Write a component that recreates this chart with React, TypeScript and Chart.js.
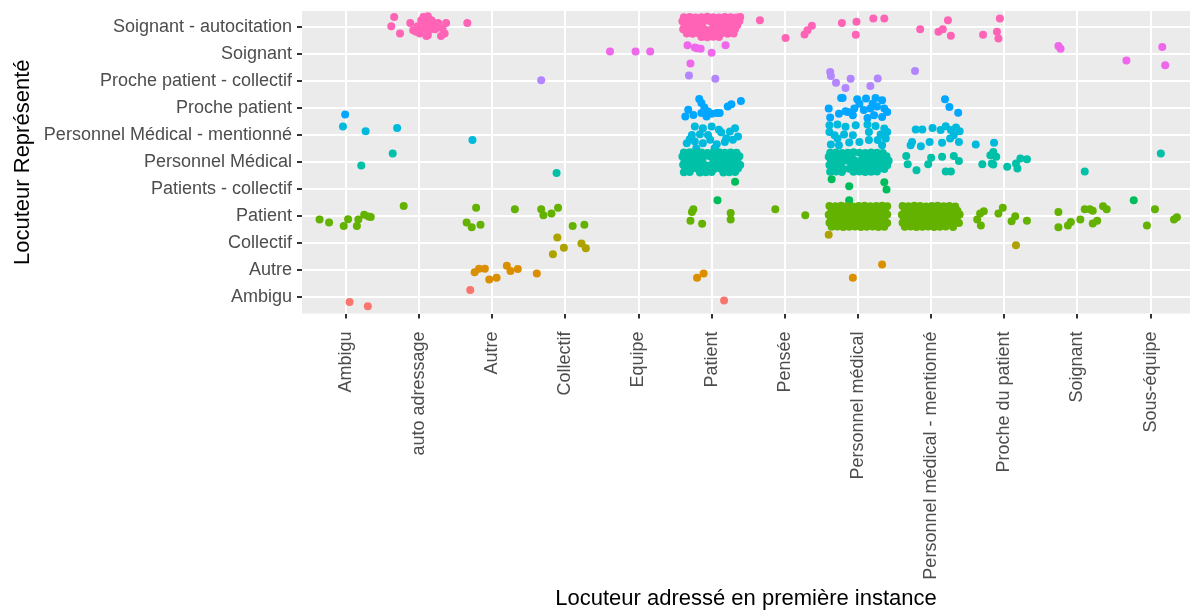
import React, { useEffect, useRef } from "react";
import { Chart, registerables } from "chart.js";

Chart.register(...registerables);

// X categories (Locuteur adressé en première instance), positions 1..12
const xCategories = [
  "Ambigu",
  "auto adressage",
  "Autre",
  "Collectif",
  "Equipe",
  "Patient",
  "Pensée",
  "Personnel médical",
  "Personnel médical - mentionné",
  "Proche du patient",
  "Soignant",
  "Sous-équipe",
];

// Y categories (Locuteur Représenté), positions 1..11 from bottom
const yCategories = [
  "Ambigu",
  "Autre",
  "Collectif",
  "Patient",
  "Patients - collectif",
  "Personnel Médical",
  "Personnel Médical - mentionné",
  "Proche patient",
  "Proche patient - collectif",
  "Soignant",
  "Soignant - autocitation",
];

const seriesColors = [
  "#F8766D",
  "#DB8E00",
  "#AEA200",
  "#64B200",
  "#00BD5C",
  "#00C1A7",
  "#00BADE",
  "#00A6FF",
  "#B385FF",
  "#EF67EB",
  "#FF63B6",
];

const ambiguPts: number[][] = [[1.05, 0.83], [1.3, 0.67], [2.7, 1.27], [6.17, 0.88]];

const autrePts: number[][] = [
  [2.76, 1.93], [2.82, 2.06], [2.9, 2.06], [2.96, 1.66], [3.06, 1.72], [3.2, 2.17], [3.25, 1.97],
  [3.35, 2.05], [3.61, 1.88], [5.8, 1.72], [5.89, 1.88], [8.33, 2.21], [7.93, 1.72],
];

const collectifPts: number[][] = [
  [3.89, 3.21], [3.98, 2.83], [3.83, 2.59], [4.22, 2.99], [4.28, 2.82], [7.6, 3.32], [10.16, 2.93],
];

const patientPts: number[][] = [
  [0.64, 3.88], [0.77, 3.77], [0.97, 3.64], [1.03, 3.89], [1.15, 3.64], [1.17, 3.88], [1.25, 4.06],
  [1.34, 3.97], [1.31, 3.99], [1.79, 4.38],
  [2.65, 3.77], [2.72, 3.59], [2.78, 4.32], [2.84, 3.69], [3.31, 4.26],
  [3.67, 4.26], [3.7, 4.04], [3.81, 4.1], [3.9, 4.32], [4.1, 3.64], [4.26, 3.69],
  [5.75, 4.26], [5.73, 4.16], [5.71, 3.83], [5.87, 3.72], [6.26, 4.12], [6.26, 3.88], [6.87, 4.26],
  [7.28, 4.04],
  // Personnel médical block
  [7.61, 4.38], [7.69, 4.37], [7.77, 4.39], [7.85, 4.38], [7.93, 4.36], [8.01, 4.38], [8.09, 4.39], [8.17, 4.37], [8.25, 4.38], [8.33, 4.39], [8.4, 4.37],
  [7.64, 4.22], [7.72, 4.23], [7.8, 4.21], [7.88, 4.22], [7.97, 4.24], [8.05, 4.22], [8.13, 4.21], [8.21, 4.23], [8.29, 4.22], [8.37, 4.21],
  [7.6, 4.06], [7.68, 4.07], [7.76, 4.05], [7.84, 4.06], [7.92, 4.08], [8.0, 4.06], [8.08, 4.05], [8.16, 4.07], [8.24, 4.06], [8.32, 4.05], [8.4, 4.07],
  [7.63, 3.91], [7.71, 3.9], [7.79, 3.92], [7.87, 3.91], [7.95, 3.89], [8.03, 3.91], [8.12, 3.92], [8.2, 3.9], [8.28, 3.91], [8.36, 3.92],
  [7.61, 3.76], [7.69, 3.75], [7.77, 3.77], [7.85, 3.76], [7.93, 3.74], [8.01, 3.76], [8.09, 3.77], [8.17, 3.75], [8.25, 3.76], [8.33, 3.77], [8.4, 3.75],
  [7.64, 3.61], [7.72, 3.62], [7.8, 3.6], [7.88, 3.61], [7.96, 3.62], [8.04, 3.6], [8.12, 3.61], [8.2, 3.62], [8.28, 3.6], [8.36, 3.61],
  // Personnel médical - mentionné block
  [8.61, 4.38], [8.69, 4.37], [8.77, 4.39], [8.85, 4.38], [8.93, 4.36], [9.01, 4.38], [9.09, 4.39], [9.17, 4.37], [9.25, 4.38], [9.33, 4.36],
  [8.64, 4.22], [8.72, 4.23], [8.8, 4.21], [8.88, 4.22], [8.96, 4.24], [9.04, 4.22], [9.12, 4.21], [9.2, 4.23], [9.28, 4.22], [9.36, 4.2],
  [8.6, 4.06], [8.68, 4.07], [8.76, 4.05], [8.84, 4.06], [8.92, 4.08], [9.0, 4.06], [9.08, 4.05], [9.16, 4.07], [9.24, 4.06], [9.32, 4.05], [9.39, 4.07],
  [8.63, 3.91], [8.71, 3.9], [8.79, 3.92], [8.87, 3.91], [8.95, 3.89], [9.03, 3.91], [9.11, 3.92], [9.19, 3.9], [9.27, 3.91], [9.35, 3.92],
  [8.61, 3.76], [8.69, 3.75], [8.77, 3.77], [8.85, 3.76], [8.93, 3.74], [9.01, 3.76], [9.09, 3.77], [9.17, 3.75], [9.25, 3.76], [9.33, 3.77], [9.38, 3.75],
  [8.64, 3.61], [8.72, 3.62], [8.8, 3.6], [8.88, 3.61], [8.96, 3.62], [9.04, 3.6], [9.12, 3.61], [9.2, 3.62], [9.3, 3.6],
  // right side
  [9.63, 3.88], [9.67, 4.1], [9.68, 3.66], [9.72, 4.19], [9.92, 4.1], [9.98, 4.32], [10.1, 3.82], [10.15, 4.0],
  [10.31, 3.83], [10.74, 4.16], [10.74, 3.59], [10.87, 3.66], [10.91, 3.79], [11.04, 3.88], [11.1, 4.26],
  [11.17, 4.26], [11.21, 4.2], [11.21, 3.73], [11.27, 3.83], [11.35, 4.37], [11.4, 4.26], [11.95, 3.66],
  [12.06, 4.26], [12.32, 3.88], [12.36, 3.96],
];

const patientsCollectifPts: number[][] = [
  [6.32, 5.28], [6.08, 4.59], [7.64, 5.37], [7.88, 5.11], [7.88, 4.59], [8.36, 5.26], [8.39, 4.99], [11.77, 4.59],
];

const personnelMedicalPts: number[][] = [
  [1.21, 5.88], [1.64, 6.32], [3.88, 5.6],
  // Patient block
  [5.62, 6.36], [5.7, 6.37], [5.78, 6.35], [5.86, 6.36], [5.94, 6.34], [6.02, 6.36], [6.1, 6.37], [6.18, 6.35], [6.26, 6.36], [6.34, 6.35],
  [5.6, 6.21], [5.66, 6.22], [5.74, 6.2], [5.82, 6.21], [5.9, 6.23], [5.98, 6.21], [6.06, 6.2], [6.14, 6.22], [6.22, 6.21], [6.3, 6.2], [6.38, 6.22],
  [5.63, 6.06], [5.71, 6.07], [5.79, 6.05], [5.87, 6.06], [6.03, 6.07], [6.11, 6.05], [6.19, 6.06], [6.27, 6.08], [6.35, 6.06],
  [5.61, 5.91], [5.68, 5.9], [5.76, 5.92], [5.84, 5.91], [5.92, 5.89], [6.0, 5.91], [6.08, 5.92], [6.16, 5.9], [6.24, 5.91], [6.32, 5.92], [6.39, 5.9],
  [5.64, 5.76], [5.72, 5.75], [5.8, 5.77], [5.88, 5.76], [5.96, 5.74], [6.04, 5.76], [6.12, 5.77], [6.2, 5.75], [6.28, 5.76], [6.36, 5.77],
  [5.62, 5.63], [5.7, 5.64], [5.84, 5.62], [5.92, 5.63], [6.0, 5.64], [6.16, 5.62], [6.24, 5.63], [6.32, 5.64],
  // Personnel médical block
  [7.62, 6.35], [7.7, 6.36], [7.78, 6.34], [7.86, 6.35], [7.94, 6.37], [8.02, 6.35], [8.1, 6.34], [8.18, 6.36], [8.26, 6.35], [8.34, 6.34],
  [7.6, 6.2], [7.67, 6.21], [7.75, 6.19], [7.83, 6.2], [7.91, 6.22], [8.07, 6.2], [8.15, 6.19], [8.23, 6.21], [8.31, 6.2], [8.39, 6.22],
  [7.63, 6.05], [7.71, 6.06], [7.79, 6.04], [7.87, 6.05], [7.95, 6.07], [8.03, 6.05], [8.11, 6.04], [8.19, 6.06], [8.27, 6.05], [8.35, 6.04], [8.42, 6.06],
  [7.61, 5.9], [7.68, 5.91], [7.76, 5.89], [7.92, 5.9], [8.0, 5.92], [8.08, 5.9], [8.16, 5.89], [8.24, 5.91], [8.32, 5.9], [8.4, 5.89],
  [7.64, 5.76], [7.72, 5.77], [7.8, 5.75], [7.88, 5.76], [7.96, 5.78], [8.04, 5.76], [8.12, 5.75], [8.2, 5.77], [8.28, 5.76], [8.36, 5.75],
  [7.62, 5.65], [7.7, 5.66], [7.78, 5.64], [7.94, 5.65], [8.02, 5.66], [8.1, 5.64], [8.18, 5.65], [8.26, 5.66],
  // Personnel médical - mentionné and right side
  [8.66, 6.23], [8.68, 5.93], [8.8, 5.7], [8.96, 5.93], [9.0, 6.17], [9.15, 6.2], [9.2, 5.66], [9.27, 5.66],
  [9.31, 6.23], [9.38, 6.05], [9.7, 5.93], [9.81, 6.26], [9.83, 5.95], [9.85, 6.38], [9.89, 6.2], [9.85, 5.92],
  [10.04, 5.83], [10.16, 5.95], [10.18, 5.77], [10.22, 6.14], [10.31, 6.11], [11.1, 5.66], [12.14, 6.32],
];

const personnelMentionnePts: number[][] = [
  [0.96, 7.32], [1.27, 7.15], [1.7, 7.27], [2.73, 6.82],
  // Patient column
  [5.77, 7.32], [5.88, 7.26], [6.0, 7.32], [5.73, 7.01], [5.84, 7.04], [6.13, 7.11], [6.25, 7.14], [6.32, 7.26],
  [5.66, 6.7], [5.77, 6.77], [5.88, 6.7], [5.98, 6.83], [6.07, 6.67], [6.2, 6.89], [6.29, 6.83], [5.79, 6.52],
  [6.04, 6.52], [5.95, 7.01], [6.36, 6.95], [5.7, 6.85], [6.18, 6.75], [6.1, 7.2],
  // Personnel médical column
  [7.61, 7.37], [7.72, 7.4], [7.83, 7.31], [7.97, 7.37], [8.13, 7.4], [8.24, 7.34], [8.36, 7.25], [7.61, 7.12],
  [7.68, 7.0], [7.81, 7.03], [8.15, 7.12], [8.31, 7.03], [8.4, 7.12], [7.63, 6.66], [7.74, 6.63], [7.88, 6.73],
  [8.02, 6.75], [8.15, 6.82], [8.27, 6.82], [8.38, 6.88], [7.93, 7.0], [7.72, 6.88], [8.33, 6.63],
  // Personnel médical - mentionné column
  [8.79, 7.21], [8.88, 7.21], [9.02, 7.27], [9.13, 7.19], [9.2, 7.33], [9.27, 7.19], [9.34, 7.29], [9.39, 7.15],
  [9.31, 7.0], [8.74, 6.75], [8.72, 6.63], [8.86, 6.59], [8.98, 6.75], [9.15, 6.72], [9.26, 6.88], [9.61, 6.66],
  [9.38, 6.75], [9.86, 6.72],
];

const prochePatientPts: number[][] = [
  [0.99, 7.77],
  // Patient column
  [5.83, 8.34], [5.86, 8.19], [5.68, 7.94], [5.64, 7.69], [5.75, 7.75], [5.86, 7.82], [5.93, 7.69], [6.07, 7.82],
  [6.11, 7.82], [6.22, 8.06], [6.27, 8.15], [6.4, 8.27], [5.9, 8.03], [5.95, 7.88], [6.0, 7.8],
  // Personnel médical column
  [7.79, 8.38], [7.99, 8.33], [8.11, 8.36], [8.24, 8.38], [8.33, 8.3], [7.6, 7.99], [7.83, 7.89], [7.95, 7.99],
  [8.08, 7.93], [8.17, 7.99], [8.36, 7.99], [8.4, 7.86], [7.62, 7.66], [7.74, 7.8], [7.93, 7.74], [8.13, 7.64],
  [8.22, 7.74], [8.33, 7.68], [8.02, 8.17], [8.2, 8.17], [7.77, 8.38], [7.86, 7.86], [8.26, 8.06],
  // Personnel médical - mentionné column
  [9.19, 8.33], [9.25, 8.05], [9.37, 7.83],
];

const procheCollectifPts: number[][] = [
  [3.67, 9.04], [5.69, 9.21], [6.05, 9.09], [7.62, 9.34], [7.63, 9.19], [7.7, 8.94], [7.83, 8.75], [7.9, 9.09],
  [8.17, 8.82], [8.27, 9.1], [8.78, 9.38],
];

const soignantPts: number[][] = [
  [4.61, 10.1], [4.96, 10.1], [5.16, 10.1], [5.67, 10.33], [5.77, 10.25], [5.85, 10.2], [6.0, 10.05], [6.19, 10.33],
  [5.71, 9.66], [5.8, 10.22], [10.74, 10.3], [10.77, 10.2], [11.67, 9.77], [12.16, 10.27], [12.2, 9.59],
];

const soignantAutoPts: number[][] = [
  [1.66, 11.38], [1.62, 11.04], [1.74, 10.77],
  // auto adressage cluster
  [1.88, 11.16], [1.92, 10.89], [1.98, 11.04], [2.03, 11.26], [2.06, 11.38], [2.12, 11.41], [2.09, 11.14],
  [2.14, 10.89], [2.12, 10.7], [2.01, 10.77], [2.19, 11.07], [2.26, 11.16], [2.37, 11.16], [2.32, 10.95],
  [2.35, 10.77], [2.3, 10.67], [2.22, 10.92], [2.04, 10.95], [1.96, 10.83], [2.17, 11.26], [2.1, 10.67],
  [2.08, 10.95], [2.66, 11.16],
  // Patient block
  [5.62, 11.37], [5.7, 11.38], [5.78, 11.36], [5.86, 11.37], [5.94, 11.39], [6.02, 11.37], [6.1, 11.36], [6.18, 11.38], [6.26, 11.37], [6.34, 11.36], [6.39, 11.38],
  [5.6, 11.22], [5.66, 11.23], [5.74, 11.21], [5.82, 11.22], [5.9, 11.24], [5.98, 11.22], [6.06, 11.21], [6.14, 11.23], [6.22, 11.22], [6.3, 11.21], [6.38, 11.23],
  [5.63, 11.07], [5.71, 11.08], [5.79, 11.06], [5.87, 11.07], [6.03, 11.08], [6.11, 11.06], [6.19, 11.07], [6.27, 11.09], [6.35, 11.07],
  [5.61, 10.92], [5.68, 10.91], [5.76, 10.93], [5.84, 10.92], [5.92, 10.9], [6.0, 10.92], [6.08, 10.93], [6.16, 10.91], [6.24, 10.92], [6.32, 10.93],
  [5.66, 10.77], [5.74, 10.76], [5.82, 10.78], [5.9, 10.77], [5.98, 10.75], [6.06, 10.77], [6.14, 10.78], [6.22, 10.76], [6.3, 10.77],
  [5.86, 10.64], [5.94, 10.63], [6.02, 10.65], [6.1, 10.64],
  // right side
  [6.66, 11.26], [7.01, 10.6], [7.27, 10.73], [7.31, 10.89], [7.37, 11.05], [7.78, 11.16], [7.98, 11.2], [7.97, 10.72],
  [8.21, 11.32], [8.36, 11.32], [8.85, 10.92], [9.1, 10.83], [9.16, 10.92], [9.23, 11.26], [9.27, 10.68], [9.71, 10.72],
  [9.94, 11.32], [9.9, 10.83], [9.92, 10.58],
];

const seriesPoints = [
  ambiguPts,
  autrePts,
  collectifPts,
  patientPts,
  patientsCollectifPts,
  personnelMedicalPts,
  personnelMentionnePts,
  prochePatientPts,
  procheCollectifPts,
  soignantPts,
  soignantAutoPts,
];

const FONT = "'Liberation Sans', Arial, Helvetica, sans-serif";

export default function App() {
  const ref = useRef<HTMLCanvasElement>(null);

  useEffect(() => {
    const canvas = ref.current;
    if (!canvas) return;

    const datasets = yCategories.map((name, i) => ({
      label: name,
      data: seriesPoints[i].map(([x, y]) => ({ x, y })),
      backgroundColor: seriesColors[i],
      borderColor: seriesColors[i],
      pointRadius: 4,
      pointBorderWidth: 0,
      borderWidth: 0,
    }));

    const panelBg = {
      id: "panelBg",
      beforeDraw(chart: any) {
        const { ctx, chartArea: a } = chart;
        ctx.save();
        ctx.fillStyle = "#EBEBEB";
        ctx.fillRect(a.left, a.top, a.right - a.left, a.bottom - a.top);
        ctx.restore();
      },
    };

    const chart = new Chart(canvas, {
      type: "scatter",
      data: { datasets } as any,
      options: {
        animation: false,
        responsive: false,
        layout: { padding: { top: 11, left: 0, right: 0, bottom: 0 } },
        plugins: {
          legend: { display: false },
          tooltip: { enabled: false },
        },
        scales: {
          x: {
            type: "linear",
            min: 0.4,
            max: 12.539,
            afterBuildTicks: (s: any) => {
              s.ticks = xCategories.map((_, i) => ({ value: i + 1 }));
            },
            afterFit: (s: any) => {
              s.height = 298.5;
              s.paddingLeft = 0;
              s.paddingRight = 0;
            },
            ticks: {
              autoSkip: false,
              minRotation: 90,
              maxRotation: 90,
              padding: 13,
              color: "#4D4D4D",
              font: { family: FONT, size: 18 },
              callback: (v: any) => xCategories[Math.round(Number(v)) - 1] ?? "",
            },
            grid: {
              color: "#FFFFFF",
              lineWidth: 2,
              tickLength: 5,
              tickColor: "#333333",
              tickWidth: 2,
            },
            border: { display: false },
            title: {
              display: true,
              text: "Locuteur adressé en première instance",
              color: "#000000",
              font: { family: FONT, size: 22 },
              padding: { top: 0, bottom: 0 },
            },
          },
          y: {
            type: "linear",
            min: 0.4,
            max: 11.6,
            afterBuildTicks: (s: any) => {
              s.ticks = yCategories.map((_, i) => ({ value: i + 1 }));
            },
            afterFit: (s: any) => {
              s.width = 302;
              s.paddingTop = 0;
              s.paddingBottom = 0;
            },
            ticks: {
              autoSkip: false,
              padding: 5,
              color: "#4D4D4D",
              font: { family: FONT, size: 18 },
              callback: (v: any) => yCategories[Math.round(Number(v)) - 1] ?? "",
            },
            grid: {
              color: "#FFFFFF",
              lineWidth: 2,
              tickLength: 5,
              tickColor: "#333333",
              tickWidth: 2,
            },
            border: { display: false },
            title: {
              display: true,
              text: "Locuteur Représenté",
              color: "#000000",
              font: { family: FONT, size: 22 },
              padding: { top: 10, bottom: 0 },
            },
          },
        },
      } as any,
      plugins: [panelBg],
    });

    return () => chart.destroy();
  }, []);

  return (
    <div style={{ position: "absolute", left: 0, top: 0, width: 1194, height: 612 }}>
      <canvas ref={ref} width={1194} height={612} style={{ display: "block" }} />
    </div>
  );
}
